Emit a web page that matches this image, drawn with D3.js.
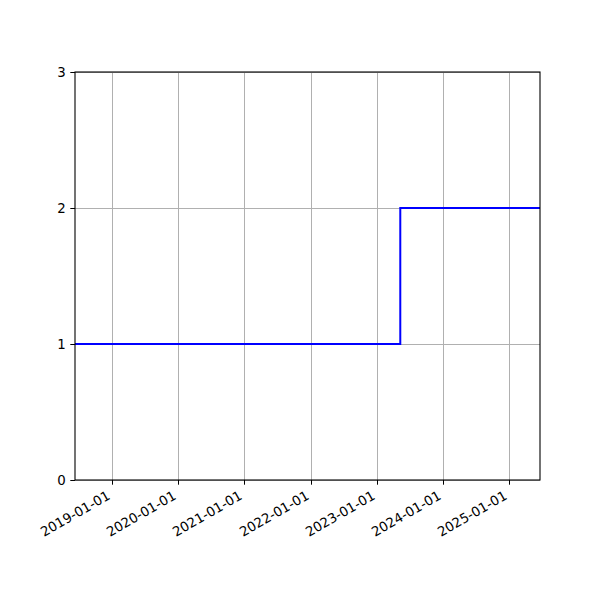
<!DOCTYPE html>
<html>
<head>
<meta charset="utf-8">
<script src="https://cdn.jsdelivr.net/npm/d3@7"></script>
<style>
body { margin: 0; background: #fff; }
text { font-family: "DejaVu Sans", sans-serif; }
</style>
</head>
<body>
<div id="chart"></div>
<script>
var W = 600, H = 600;
var axLeft = 75, axRight = 540, axTop = 72, axBottom = 480;

// step series (value holds until next date)
var dates = ["2018-06-11", "2023-05-11", "2025-06-20"];
var values = [1, 2, 2];
var xTicks = ["2019-01-01", "2020-01-01", "2021-01-01", "2022-01-01", "2023-01-01", "2024-01-01", "2025-01-01"];
var yTicks = [0, 1, 2, 3];

var parse = d3.utcParse("%Y-%m-%d");
var pts = dates.map((d, i) => [parse(d), values[i]]);

var x = d3.scaleUtc()
	.domain([parse(dates[0]), parse(dates[dates.length - 1])])
	.range([axLeft, axRight]);
var y = d3.scaleLinear().domain([0, 3]).range([axBottom, axTop]);

var svg = d3.select("#chart").append("svg")
	.attr("width", W)
	.attr("height", H);

var grid = "#b0b0b0";

// grid
svg.append("g").selectAll("line")
	.data(xTicks)
	.enter()
	.append("line")
	.attr("x1", d => Math.round(x(parse(d))) + 0.5)
	.attr("x2", d => Math.round(x(parse(d))) + 0.5)
	.attr("y1", axTop)
	.attr("y2", axBottom)
	.attr("stroke", grid)
	.attr("stroke-width", 1);

svg.append("g").selectAll("line")
	.data(yTicks)
	.enter()
	.append("line")
	.attr("x1", axLeft)
	.attr("x2", axRight)
	.attr("y1", d => y(d) + 0.5)
	.attr("y2", d => y(d) + 0.5)
	.attr("stroke", grid)
	.attr("stroke-width", 1);

// the step line
var line = d3.line()
	.x(d => x(d[0]))
	.y(d => y(d[1]))
	.curve(d3.curveStepAfter);

svg.append("path")
	.datum(pts)
	.attr("d", line)
	.attr("fill", "none")
	.attr("stroke", "#0000ff")
	.attr("stroke-width", 2);

// spines
svg.append("rect")
	.attr("x", axLeft)
	.attr("y", axTop)
	.attr("width", axRight - axLeft)
	.attr("height", axBottom - axTop)
	.attr("fill", "none")
	.attr("stroke", "#000")
	.attr("stroke-width", 1.1);

// x ticks
var xg = svg.append("g");
xTicks.forEach(function(t) {
	var px = Math.round(x(parse(t))) + 0.5;
	xg.append("line")
		.attr("x1", px).attr("x2", px)
		.attr("y1", axBottom).attr("y2", axBottom + 4.7)
		.attr("stroke", "#000")
		.attr("stroke-width", 1);
	xg.append("text")
		.attr("transform", "translate(" + (px - 1.5) + "," + (axBottom + 18.3) + ") rotate(-30)")
		.attr("text-anchor", "end")
		.style("font-size", "13.33px")
		.attr("fill", "#000")
		.text(t);
});

// y ticks
var yg = svg.append("g");
yTicks.forEach(function(t) {
	var py = y(t) + 0.5;
	yg.append("line")
		.attr("x1", axLeft - 4.7).attr("x2", axLeft)
		.attr("y1", py).attr("y2", py)
		.attr("stroke", "#000")
		.attr("stroke-width", 1);
	yg.append("text")
		.attr("x", axLeft - 9.3)
		.attr("y", py)
		.attr("dy", "0.35em")
		.attr("text-anchor", "end")
		.style("font-size", "13.33px")
		.attr("fill", "#000")
		.text(t);
});
</script>
</body>
</html>
